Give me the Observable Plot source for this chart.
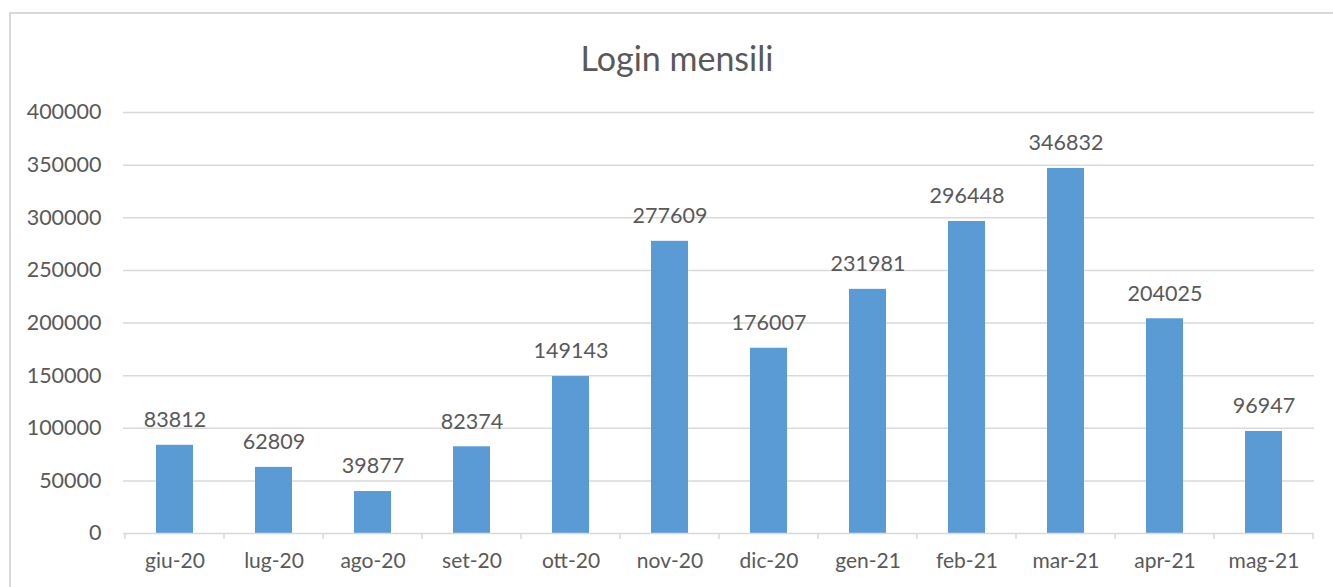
<!DOCTYPE html>
<html>
<head>
<meta charset="utf-8">
<script src="https://cdn.jsdelivr.net/npm/d3@7"></script>
<script src="https://cdn.jsdelivr.net/npm/@observablehq/plot@0.6"></script>
<style>
  html, body { margin: 0; padding: 0; background: #fff; overflow: hidden; }
  #wrap { position: relative; width: 1333px; height: 587px; font-family: Lato, "Open Sans", sans-serif; }
  #frame { position: absolute; left: 9px; top: 12px; width: 1340px; height: 600px; border: 2px solid #d9d9d9; box-sizing: border-box; }
  #title { position: absolute; left: 0; width: 1354px; top: 37px; text-align: center; font-size: 34px; color: #595959; line-height: 42px; }
  #chart { position: absolute; left: 0; top: 90px; }
</style>
</head>
<body>
<div id="wrap">
  <div id="frame"></div>
  <div id="title">Login mensili</div>
  <div id="chart"></div>
</div>
<script>
const months = ["giu-20","lug-20","ago-20","set-20","ott-20","nov-20","dic-20","gen-21","feb-21","mar-21","apr-21","mag-21"];
const logins = [83812, 62809, 39877, 82374, 149143, 277609, 176007, 231981, 296448, 346832, 204025, 96947];
const yTicks = [0, 50000, 100000, 150000, 200000, 250000, 300000, 350000, 400000];

const data = months.map((m, i) => ({month: m, value: logins[i]}));

const plot = Plot.plot({
  width: 1333,
  height: 497,
  marginLeft: 123,
  marginRight: 19,
  marginTop: 22,
  marginBottom: 54,
  style: {fontFamily: "Lato, 'Open Sans', sans-serif", fontSize: "21px", color: "#595959", background: "transparent"},
  x: {domain: months, paddingInner: 0.627, paddingOuter: 0.3135, label: null},
  y: {domain: [0, 400000], label: null},
  marks: [
    Plot.ruleY(yTicks.slice(1), {stroke: "#d9d9d9", strokeWidth: 1.5}),
    Plot.barY(data, {x: "month", y: "value", fill: "#5b9bd5"}),
    Plot.ruleY([0], {stroke: "#d9d9d9", strokeWidth: 1.5}),
    Plot.text(data, {x: "month", y: "value", text: d => String(d.value), dy: -25, fill: "#595959", fontSize: 21.5}),
    Plot.axisY({ticks: yTicks, tickFormat: d => String(d), tickSize: 0, tickPadding: 22, fill: "#595959", fontSize: 21.5}),
    Plot.axisX({tickSize: 0, tickPadding: 20, fill: "#595959", fontSize: 21})
  ]
});
document.getElementById("chart").appendChild(plot);

// category separator ticks on the x axis line, placed via the plot's scales
const xs = plot.scale("x");
const ys = plot.scale("y");
const svg = d3.select(plot);
const step = xs.step;
const first = xs.apply(months[0]) - (step - xs.bandwidth) / 2;
const bounds = d3.range(months.length + 1).map(i => first + i * step);
svg.append("g").selectAll("line").data(bounds).join("line")
  .attr("x1", d => d).attr("x2", d => d)
  .attr("y1", ys.apply(0)).attr("y2", ys.apply(0) + 6)
  .attr("stroke", "#d9d9d9").attr("stroke-width", 1.5);
</script>
</body>
</html>
